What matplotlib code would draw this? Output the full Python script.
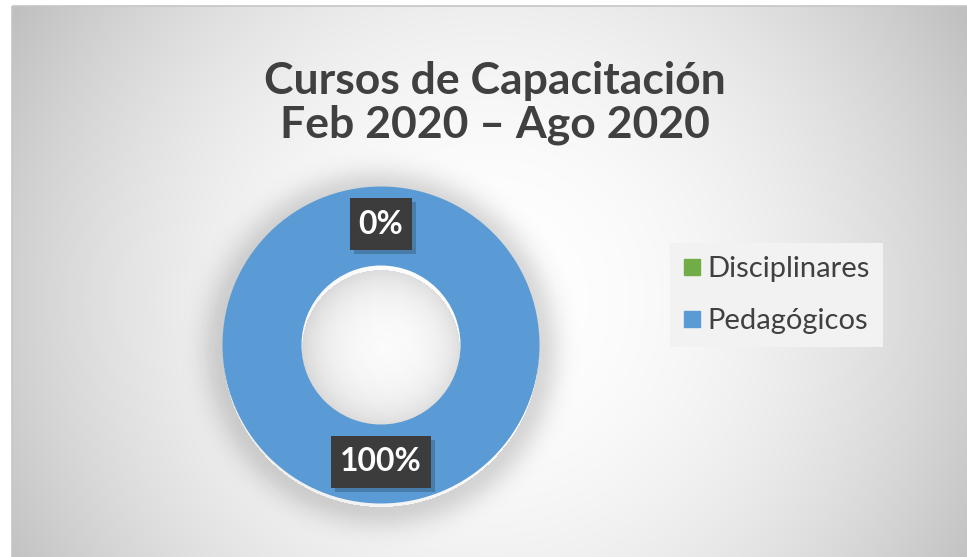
import numpy as np
import matplotlib
matplotlib.use("Agg")
import matplotlib.pyplot as plt
from matplotlib.lines import Line2D
from matplotlib.patches import Rectangle

# data
categories = ["Disciplinares", "Pedagógicos"]
values = [0, 100]
colors = ["#70AD47", "#5B9BD5"]
title = "Cursos de Capacitación\nFeb 2020 – Ago 2020"

W, H = 967, 557
TEXT = "#404040"
plt.rcParams['font.family'] = ['Lato', 'DejaVu Sans']

fig = plt.figure(figsize=(W / 100, H / 100), dpi=100)
fig.patch.set_facecolor("white")

# background axes in pixel coords
bg = fig.add_axes([0, 0, 1, 1])
bg.set_xlim(0, W)
bg.set_ylim(H, 0)
bg.axis("off")

# chart area: soft radial gradient, white in the middle
x0, y0 = 12, 6
xs = np.linspace(x0, W, 400)
ys = np.linspace(y0, H, 240)
gx, gy = np.meshgrid(xs, ys)
dx = (gx - 490) / 478
dy = (gy - 300) / 275
shade = 255 - 47 * dx ** 2 - 15 * dy ** 2
shade = np.clip(shade, 185, 255) / 255
bg.imshow(np.dstack([shade] * 3), extent=(x0, W, H, y0), aspect="auto",
          interpolation="bilinear", zorder=0)
bg.add_patch(Rectangle((x0, y0), W - x0 + 5, H - y0 + 5, fill=False,
                       edgecolor="#c6c6c6", lw=1.2, zorder=1))

# donut geometry (pixels)
cx, cy = 381, 345
r_out, r_in = 158.5, 79.5

# soft shadow behind the ring
sx = np.arange(cx - 230, cx + 230)
sy = np.arange(cy - 230, cy + 230)
mx, my = np.meshgrid(sx, sy)
rr = np.hypot(mx - cx, my - (cy + 4))
alpha = np.zeros_like(rr, dtype=float)
outer = rr > r_out
alpha[outer] = 0.15 * np.exp(-((rr[outer] - r_out) / 22.0) ** 2)
inner = rr < r_in
alpha[inner] = 0.13 * np.exp(-(r_in - rr[inner]) / 25.0)
shadow = np.zeros(rr.shape + (4,))
shadow[..., 3] = alpha
bg.imshow(shadow, extent=(sx[0], sx[-1], sy[-1], sy[0]), aspect="auto",
          interpolation="nearest", zorder=2)

# donut axes, 1 data unit = 160 px
S = 160
ax = fig.add_axes([(cx - S) / W, (H - cy - S) / H, 2 * S / W, 2 * S / H])
wedges, _ = ax.pie(values, colors=colors, radius=r_out / S, startangle=90,
                   counterclock=False,
                   wedgeprops=dict(width=(r_out - r_in) / S, linewidth=0))
ax.set_xlim(-1, 1)
ax.set_ylim(-1, 1)
ax.axis("off")

# data labels with dark boxes
total = sum(values)
label_texts = []
rm = (r_out + r_in) / 2 / S
for w, v in zip(wedges, values):
    ang = np.deg2rad((w.theta1 + w.theta2) / 2)
    t = ax.text(rm * np.cos(ang), rm * np.sin(ang) + 2 / S, f"{v / total:.0%}",
                ha="center", va="center", color="white", fontsize=23,
                fontweight="bold", zorder=6)
    label_texts.append(t)

fig.canvas.draw()
renderer = fig.canvas.get_renderer()
for t in label_texts:
    bb = t.get_window_extent(renderer)
    bw = (bb.width + 18) / S
    bh = 52 / S
    tx, ty = t.get_position()
    ax.add_patch(Rectangle((tx - bw / 2 + 4 / S, ty - bh / 2 - 4 / S), bw, bh,
                           facecolor="black", alpha=0.2, lw=0, zorder=4))
    ax.add_patch(Rectangle((tx - bw / 2, ty - bh / 2), bw, bh,
                           facecolor="#3c3c3c", lw=0, zorder=5))

# title
fig.text(0.512, 1 - 103 / H, title, ha="center", va="center", color=TEXT,
         fontsize=32, fontweight="bold", linespacing=1.12)

# legend
handles = [Line2D([], [], marker="s", ls="none", markersize=11,
                  markerfacecolor=c, markeredgecolor=c) for c in colors]
leg = fig.legend(handles, categories, loc="center",
                 bbox_to_anchor=(776.5 / W, 1 - 295 / H),
                 fontsize=21, frameon=True, fancybox=False,
                 handlelength=0.6, handletextpad=0.25, labelspacing=0.9,
                 borderpad=0.45, borderaxespad=0)
leg.get_frame().set_facecolor("#f2f2f2")
leg.get_frame().set_edgecolor("none")
leg.get_frame().set_alpha(1)
for txt in leg.get_texts():
    txt.set_color(TEXT)

fig.savefig("out.png", dpi=100)
